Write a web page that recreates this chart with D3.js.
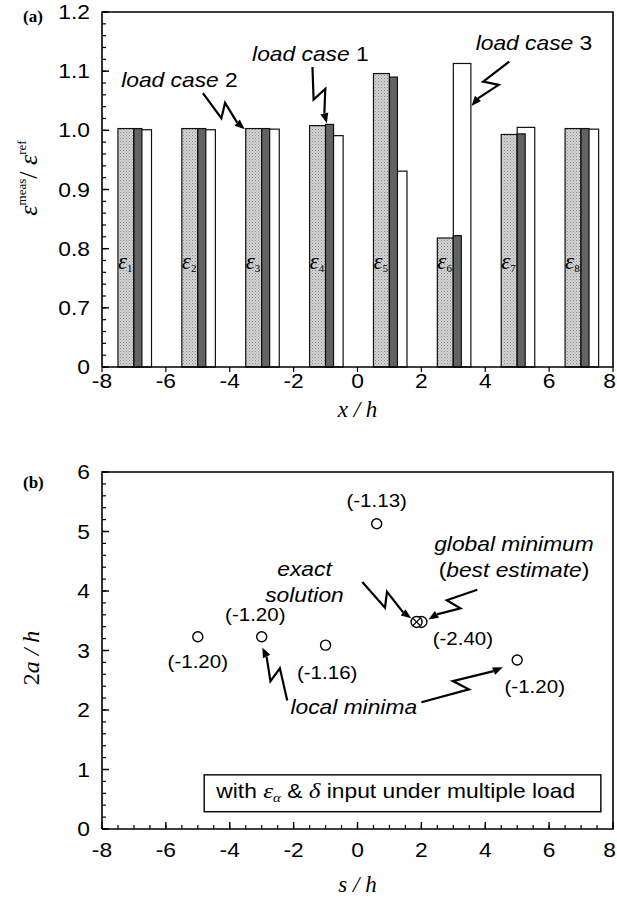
<!DOCTYPE html>
<html>
<head>
<meta charset="utf-8">
<script src="https://cdn.jsdelivr.net/npm/d3@7"></script>
<style>
  body { margin: 0; background: #fff; }
  svg { display: block; }
</style>
</head>
<body>
<div id="viz"></div>
<script>
/***************** Data *********************/
var gauges = ["1", "2", "3", "4", "5", "6", "7", "8"];
var gaugeX = [-7, -5, -3, -1, 1, 3, 5, 7];
var loadCase2 = [1.003, 1.003, 1.003, 1.008, 1.096, 0.818, 0.993, 1.003];   // stippled
var loadCase1 = [1.003, 1.003, 1.003, 1.010, 1.090, 0.822, 0.994, 1.003];   // dark
var loadCase3 = [1.001, 1.001, 1.002, 0.991, 0.931, 1.113, 1.005, 1.002];   // white

var topYTicks = [0.6, 0.7, 0.8, 0.9, 1.0, 1.1, 1.2];
var topYLabels = ["0", "0.7", "0.8", "0.9", "1.0", "1.1", "1.2"];
var xTicks = [-8, -6, -4, -2, 0, 2, 4, 6, 8];
var botYTicks = [0, 1, 2, 3, 4, 5, 6];

// local minima (s/h, 2a/h) with objective value labels
var minS = [-5.0, -3.0, -1.0, 0.6, 5.0];
var minA = [3.23, 3.23, 3.09, 5.13, 2.84];
var minLabels = ["(-1.20)", "(-1.20)", "(-1.16)", "(-1.13)", "(-1.20)"];
var exactSol = [1.85, 3.48];
var globalMin = [2.0, 3.48];
var globalLabel = "(-2.40)";

/***************** Layout *********************/
var W = 617, H = 900,
    left = 102, right = 613,
    sans = "Liberation Sans, Arial, sans-serif",
    serif = "Liberation Serif, Times New Roman, serif",
    wide = 1.14;   // the scanned figure's sans text is a bit wider than Arial

var svg = d3.select("#viz").append("svg")
    .attr("width", W).attr("height", H);

// move x/y into a transform so text can be stretched horizontally
function stretch(sel) {
  sel.each(function() {
    var t = d3.select(this), xx = +t.attr("x"), yy = +t.attr("y");
    t.attr("x", 0).attr("y", 0)
     .attr("transform", "translate(" + xx + "," + yy + ") scale(" + wide + ",1)");
  });
  return sel;
}

var defs = svg.append("defs");
var pat = defs.append("pattern")
    .attr("id", "stipple").attr("patternUnits", "userSpaceOnUse")
    .attr("width", 3).attr("height", 3);
pat.append("rect").attr("width", 3).attr("height", 3).attr("fill", "#d4d4d4");
pat.append("rect").attr("x", 0).attr("y", 0).attr("width", 1).attr("height", 1).attr("fill", "#8c8c8c");
pat.append("rect").attr("x", 1.5).attr("y", 1.5).attr("width", 1).attr("height", 1).attr("fill", "#a0a0a0");

var x = d3.scaleLinear().domain([-8, 8]).range([left, right]);
var yTop = d3.scaleLinear().domain([0.6, 1.2]).range([367, 12]);
var yBot = d3.scaleLinear().domain([0, 6]).range([829, 472]);

// lightning style leader with arrowhead
function zigArrow(g, x0, y0, x1, y1) {
  var dx = x1 - x0, dy = y1 - y0, L = Math.sqrt(dx*dx + dy*dy);
  var ux = dx / L, uy = dy / L, nx = -uy, ny = ux, w = 7;
  var ah = 10, aw = 4;
  var ex = x1 - ux*ah, ey = y1 - uy*ah;
  var pts = [[x0, y0],
             [x0 + dx*0.55 + nx*w, y0 + dy*0.55 + ny*w],
             [x0 + dx*0.42 - nx*w, y0 + dy*0.42 - ny*w],
             [ex, ey]];
  g.append("path").attr("d", d3.line()(pts))
    .attr("fill", "none").attr("stroke", "#000").attr("stroke-width", 2.2)
    .attr("stroke-linejoin", "miter");
  g.append("path")
    .attr("d", d3.line()([[x1, y1], [ex + nx*aw, ey + ny*aw], [ex - nx*aw, ey - ny*aw]]) + "Z")
    .attr("fill", "#000");
}

/***************** (a) bar chart *********************/
var ga = svg.append("g");

var bars = gauges.map(function(g, i) {
  return { g: g, c: gaugeX[i], v1: loadCase1[i], v2: loadCase2[i], v3: loadCase3[i] };
});

ga.selectAll(".b2").data(bars).enter().append("rect")
  .attr("x", function(d) { return x(d.c - 0.5); })
  .attr("width", function(d) { return x(d.c) - x(d.c - 0.5); })
  .attr("y", function(d) { return yTop(d.v2); })
  .attr("height", function(d) { return yTop(0.6) - yTop(d.v2); })
  .attr("fill", "url(#stipple)").attr("stroke", "#111").attr("stroke-width", 1.2);

ga.selectAll(".b3").data(bars).enter().append("rect")
  .attr("x", function(d) { return x(d.c); })
  .attr("width", function(d) { return x(d.c + 0.55) - x(d.c); })
  .attr("y", function(d) { return yTop(d.v3); })
  .attr("height", function(d) { return yTop(0.6) - yTop(d.v3); })
  .attr("fill", "#fff").attr("stroke", "#111").attr("stroke-width", 1.2);

ga.selectAll(".b1").data(bars).enter().append("rect")
  .attr("x", function(d) { return x(d.c); })
  .attr("width", function(d) { return x(d.c + 0.25) - x(d.c); })
  .attr("y", function(d) { return yTop(d.v1); })
  .attr("height", function(d) { return yTop(0.6) - yTop(d.v1); })
  .attr("fill", "#636363").attr("stroke", "#111").attr("stroke-width", 1.2);

// gauge labels
var gl = ga.selectAll(".glab").data(bars).enter().append("text")
  .attr("x", function(d) { return x(d.c - 0.5); })
  .attr("y", yTop(0.766))
  .attr("font-family", serif).attr("font-style", "italic").attr("font-size", 23)
  .attr("fill", "#000");
gl.append("tspan").text("ε");
gl.append("tspan").attr("font-size", 11).attr("font-style", "normal").attr("dy", 3)
  .text(function(d) { return d.g; });

// axes frame
ga.append("path")
  .attr("d", "M" + left + "," + yTop(0.6) + "V" + yTop(1.2) + "H" + right + "V" + yTop(0.6) + "H" + left)
  .attr("fill", "none").attr("stroke", "#000").attr("stroke-width", 1.6);

// y ticks (inward)
var yMinorTop = d3.range(0.6, 1.2001, 0.02);
ga.selectAll(".ymin").data(yMinorTop).enter().append("line")
  .attr("x1", left).attr("x2", left + 4)
  .attr("y1", function(d) { return yTop(d); }).attr("y2", function(d) { return yTop(d); })
  .attr("stroke", "#000").attr("stroke-width", 1.2);
ga.selectAll(".ymaj").data(topYTicks).enter().append("line")
  .attr("x1", left).attr("x2", left + 7)
  .attr("y1", function(d) { return yTop(d); }).attr("y2", function(d) { return yTop(d); })
  .attr("stroke", "#000").attr("stroke-width", 1.4);
stretch(ga.selectAll(".ylab").data(topYTicks).enter().append("text")
  .attr("x", left - 12).attr("y", function(d) { return yTop(d) + 7; })
  .attr("text-anchor", "end").attr("font-family", sans).attr("font-size", 20)
  .text(function(d, i) { return topYLabels[i]; }));

// x ticks (outward, small)
ga.selectAll(".xmaj").data(xTicks).enter().append("line")
  .attr("x1", function(d) { return x(d); }).attr("x2", function(d) { return x(d); })
  .attr("y1", yTop(0.6)).attr("y2", yTop(0.6) + 5)
  .attr("stroke", "#000").attr("stroke-width", 1.2);
stretch(ga.selectAll(".xlab").data(xTicks).enter().append("text")
  .attr("x", function(d, i) { return i === xTicks.length - 1 ? W - 1 : x(d); }).attr("y", 388)
  .attr("text-anchor", function(d, i) { return i === xTicks.length - 1 ? "end" : "middle"; })
  .attr("font-family", sans).attr("font-size", 20)
  .text(function(d) { return d; }));

ga.append("text").attr("x", x(0)).attr("y", 417).attr("text-anchor", "middle")
  .attr("font-family", serif).attr("font-style", "italic").attr("font-size", 23)
  .text("x / h");

var yt = ga.append("text")
  .attr("transform", "translate(37," + 178 + ") rotate(-90)")
  .attr("text-anchor", "middle").attr("font-family", serif).attr("font-size", 26);
yt.append("tspan").attr("font-style", "italic").text("ε");
yt.append("tspan").attr("font-size", 13).attr("dy", -11).text("meas");
yt.append("tspan").attr("dy", 11).text("/ ");
yt.append("tspan").attr("font-style", "italic").text("ε");
yt.append("tspan").attr("font-size", 13).attr("dy", -11).text("ref");

ga.append("text").attr("x", 23).attr("y", 22)
  .attr("font-family", serif).attr("font-weight", "bold").attr("font-size", 17)
  .text("(a)");

// load case annotations
var caseNum = ["2", "1", "3"];
var caseTextPos = [[-7.4, 1.074], [-3.3, 1.117], [3.7, 1.136]];
var caseArrowFrom = [[-4.84, 1.063], [-1.41, 1.107], [4.75, 1.116]];
var caseArrowTo = [[-3.53, 1.002], [-0.96, 1.012], [3.57, 1.041]];

caseNum.forEach(function(n, i) {
  var t = ga.append("text").attr("x", x(caseTextPos[i][0])).attr("y", yTop(caseTextPos[i][1]))
    .attr("font-family", sans).attr("font-size", 20);
  t.append("tspan").attr("font-style", "italic").text("load case ");
  t.append("tspan").text(n);
  stretch(t);
  zigArrow(ga, x(caseArrowFrom[i][0]), yTop(caseArrowFrom[i][1]),
           x(caseArrowTo[i][0]), yTop(caseArrowTo[i][1]));
});

/***************** (b) scatter *********************/
var gb = svg.append("g");

gb.append("path")
  .attr("d", "M" + left + "," + yBot(0) + "V" + yBot(6) + "H" + right + "V" + yBot(0) + "H" + left)
  .attr("fill", "none").attr("stroke", "#000").attr("stroke-width", 1.6);

gb.selectAll(".ymin").data(d3.range(0, 6.001, 0.2)).enter().append("line")
  .attr("x1", left).attr("x2", left + 4)
  .attr("y1", function(d) { return yBot(d); }).attr("y2", function(d) { return yBot(d); })
  .attr("stroke", "#000").attr("stroke-width", 1.2);
gb.selectAll(".ymaj").data(botYTicks).enter().append("line")
  .attr("x1", left).attr("x2", left + 7)
  .attr("y1", function(d) { return yBot(d); }).attr("y2", function(d) { return yBot(d); })
  .attr("stroke", "#000").attr("stroke-width", 1.4);
stretch(gb.selectAll(".ylab").data(botYTicks).enter().append("text")
  .attr("x", left - 12).attr("y", function(d) { return yBot(d) + 7; })
  .attr("text-anchor", "end").attr("font-family", sans).attr("font-size", 20)
  .text(function(d) { return d; }));

gb.selectAll(".xmin").data(d3.range(-8, 8.001, 0.5)).enter().append("line")
  .attr("x1", function(d) { return x(d); }).attr("x2", function(d) { return x(d); })
  .attr("y1", yBot(0)).attr("y2", yBot(0) - 4)
  .attr("stroke", "#000").attr("stroke-width", 1.2);
gb.selectAll(".xmaj").data(xTicks).enter().append("line")
  .attr("x1", function(d) { return x(d); }).attr("x2", function(d) { return x(d); })
  .attr("y1", yBot(0)).attr("y2", yBot(0) - 7)
  .attr("stroke", "#000").attr("stroke-width", 1.4);
stretch(gb.selectAll(".xlab").data(xTicks).enter().append("text")
  .attr("x", function(d, i) { return i === xTicks.length - 1 ? W - 1 : x(d); }).attr("y", 857)
  .attr("text-anchor", function(d, i) { return i === xTicks.length - 1 ? "end" : "middle"; })
  .attr("font-family", sans).attr("font-size", 20)
  .text(function(d) { return d; }));

gb.append("text").attr("x", x(0)).attr("y", 892).attr("text-anchor", "middle")
  .attr("font-family", serif).attr("font-style", "italic").attr("font-size", 23)
  .text("s / h");

var yb = gb.append("text")
  .attr("transform", "translate(39," + 658 + ") rotate(-90)")
  .attr("text-anchor", "middle").attr("font-family", serif).attr("font-size", 24);
yb.append("tspan").text("2");
yb.append("tspan").attr("font-style", "italic").text("a / h");

gb.append("text").attr("x", 23).attr("y", 488)
  .attr("font-family", serif).attr("font-weight", "bold").attr("font-size", 17)
  .text("(b)");

// local minima points
var pts = minS.map(function(s, i) { return { s: s, a: minA[i], lab: minLabels[i] }; });
gb.selectAll(".pt").data(pts).enter().append("circle")
  .attr("cx", function(d) { return x(d.s); }).attr("cy", function(d) { return yBot(d.a); })
  .attr("r", 5).attr("fill", "#fff").attr("stroke", "#000").attr("stroke-width", 1.4);

// label offsets in data units (ds, da)
var labOff = [[0, -0.42], [-0.2, 0.36], [0.05, -0.46], [0, 0.38], [0.55, -0.46]];
stretch(gb.selectAll(".plab").data(pts).enter().append("text")
  .attr("x", function(d, i) { return x(d.s + labOff[i][0]); })
  .attr("y", function(d, i) { return yBot(d.a + labOff[i][1]) + 6; })
  .attr("text-anchor", "middle").attr("font-family", sans).attr("font-size", 18)
  .text(function(d) { return d.lab; }));

// global minimum and exact solution
gb.append("circle").attr("cx", x(globalMin[0])).attr("cy", yBot(globalMin[1]))
  .attr("r", 5.5).attr("fill", "#fff").attr("stroke", "#000").attr("stroke-width", 1.4);
gb.append("circle").attr("cx", x(exactSol[0])).attr("cy", yBot(exactSol[1]))
  .attr("r", 5.5).attr("fill", "#fff").attr("stroke", "#000").attr("stroke-width", 1.4);
var cr = 3.8;
gb.append("path")
  .attr("d", "M" + (x(exactSol[0]) - cr) + "," + (yBot(exactSol[1]) - cr) + "l" + 2*cr + "," + 2*cr +
             "M" + (x(exactSol[0]) + cr) + "," + (yBot(exactSol[1]) - cr) + "l" + (-2*cr) + "," + 2*cr)
  .attr("stroke", "#000").attr("stroke-width", 1.2);
stretch(gb.append("text").attr("x", x(globalMin[0] + 1.3)).attr("y", yBot(globalMin[1] - 0.28) + 6)
  .attr("text-anchor", "middle").attr("font-family", sans).attr("font-size", 18)
  .text(globalLabel));

// annotations
function itext(xv, yv, str, anchor) {
  return stretch(gb.append("text").attr("x", x(xv)).attr("y", yBot(yv))
    .attr("text-anchor", anchor).attr("font-family", sans).attr("font-style", "italic")
    .attr("font-size", 20).text(str));
}
itext(-1.66, 4.26, "exact", "middle");
itext(-1.66, 3.81, "solution", "middle");
zigArrow(gb, x(0.15), yBot(4.15), x(1.68), yBot(3.54));

itext(4.9, 4.68, "global minimum", "middle");
var be = gb.append("text").attr("x", x(4.9)).attr("y", yBot(4.23))
  .attr("text-anchor", "middle").attr("font-family", sans).attr("font-size", 20);
be.append("tspan").text("(");
be.append("tspan").attr("font-style", "italic").text("best estimate");
be.append("tspan").text(")");
stretch(be);
zigArrow(gb, x(3.75), yBot(4.02), x(2.22), yBot(3.52));

itext(-2.1, 1.93, "local minima", "start");
zigArrow(gb, x(-2.2), yBot(2.16), x(-2.98), yBot(3.05));
zigArrow(gb, x(2.0), yBot(2.13), x(4.55), yBot(2.72));

// legend box
gb.append("rect").attr("x", x(-4.8)).attr("y", yBot(0.91))
  .attr("width", x(7.62) - x(-4.8)).attr("height", yBot(0.29) - yBot(0.91))
  .attr("fill", "#fff").attr("stroke", "#000").attr("stroke-width", 1.4);
var bt = gb.append("text").attr("x", x(-4.42)).attr("y", yBot(0.52))
  .attr("font-family", sans).attr("font-size", 20);
bt.append("tspan").text("with ");
bt.append("tspan").attr("font-family", serif).attr("font-style", "italic").attr("font-size", 22).text("ε");
bt.append("tspan").attr("font-family", serif).attr("font-style", "italic").attr("font-size", 13).attr("dy", 4).text("α");
bt.append("tspan").attr("dy", -4).text(" & ");
bt.append("tspan").attr("font-family", serif).attr("font-style", "italic").attr("font-size", 22).text("δ");
bt.append("tspan").text(" input under multiple load");
stretch(bt);
</script>
</body>
</html>
